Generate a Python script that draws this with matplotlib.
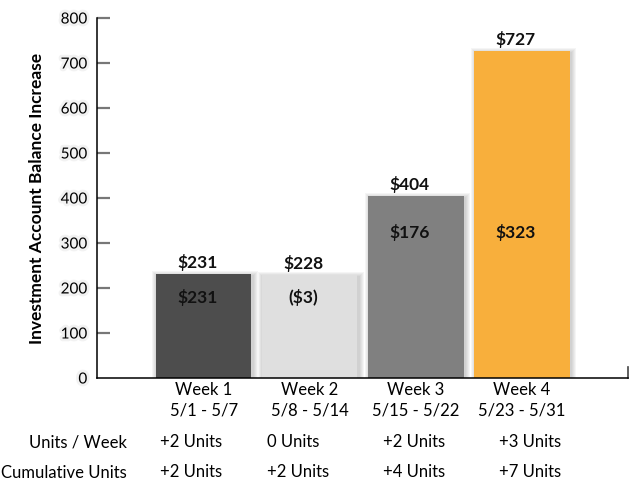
import matplotlib.pyplot as plt
import matplotlib.patheffects as pe
from matplotlib.patches import Rectangle

# Chart data
weeks = ['Week 1', 'Week 2', 'Week 3', 'Week 4']
date_ranges = ['5/1 - 5/7', '5/8 - 5/14', '5/15 - 5/22', '5/23 - 5/31']
balance = [231, 228, 404, 727]
weekly_change = ['$231', '($3)', '$176', '$323']
units_per_week = ['+2 Units', '0 Units', '+2 Units', '+3 Units']
cumulative_units = ['+2 Units', '+2 Units', '+4 Units', '+7 Units']
bar_colors = ['#4d4d4d', '#dfdfdf', '#808080', '#f8af3c']

plt.rcParams['font.family'] = ['Lato', 'DejaVu Sans']

W, H = 644, 486
fig = plt.figure(figsize=(W / 100, H / 100), dpi=100)

# axes box in pixels: x 97..628, y 18..378
ax = fig.add_axes([97 / W, (H - 378) / H, (628 - 97) / W, (378 - 18) / H])
ax.set_xlim(-1.005, 4.0)
ax.set_ylim(0, 800)

x = list(range(len(weeks)))
bar_w = 0.9
dx, dy = 1 / 106, 1 / 0.45  # one pixel in data units

# soft drop shadows
for xi, h in zip(x, balance):
    for k in range(1, 6):
        ax.add_patch(Rectangle((xi - bar_w / 2 - k * dx + 1.5 * dx, 0),
                               bar_w + 2 * k * dx, h + k * dy - 2 * dy,
                               facecolor='#444444', alpha=0.05, lw=0, zorder=1))

ax.bar(x, balance, width=bar_w, color=bar_colors, zorder=2)

# labels on top of bars and inside them
inner_y = [180, 180, 324, 324]
for xi, h, lab, iy in zip(x, balance, weekly_change, inner_y):
    ax.text(xi - 0.06, h + 7, f'${h}', ha='center', va='bottom',
            fontsize=12.5, fontweight='bold', color='#111111', zorder=3)
    ax.text(xi - 0.06, iy, lab, ha='center', va='center',
            fontsize=12.5, fontweight='bold', color='#111111', zorder=3)

# axes styling
for s in ['top', 'right']:
    ax.spines[s].set_visible(False)
ax.spines['left'].set_linewidth(1.1)
ax.spines['bottom'].set_linewidth(1.1)
ax.axvline(4.0, ymin=0, ymax=0.03, color='#444444', lw=1.2, clip_on=False)

ax.set_yticks(range(0, 801, 100))
ax.tick_params(axis='y', direction='in', length=9, width=1.6, color='#777777',
               pad=7, labelsize=11)
halo = [pe.withStroke(linewidth=4, foreground='#f2f2f2')]
for t in ax.get_yticklabels():
    t.set_path_effects(halo)
ax.yaxis.get_major_ticks()[0].tick1line.set_visible(False)

ax.set_xticks(x)
ax.set_xticklabels([f'{w}\n{d}' for w, d in zip(weeks, date_ranges)],
                   fontsize=12, linespacing=1.3)
ax.tick_params(axis='x', length=0, pad=3)

ax.set_ylabel('Investment Account Balance Increase', fontsize=12.5,
              fontweight='bold', labelpad=11)

# summary rows under the chart
unit_x_px = [160, 267, 383, 499]
fig.text(29 / W, 1 - 442 / H, 'Units / Week', fontsize=12, va='center')
fig.text(1 / W, 1 - 473 / H, 'Cumulative Units', fontsize=12, va='center')
for px, u, c in zip(unit_x_px, units_per_week, cumulative_units):
    fig.text(px / W, 1 - 442 / H, u, fontsize=12, va='center')
    fig.text(px / W, 1 - 472 / H, c, fontsize=12, va='center')

fig.savefig('out.png', dpi=100)
